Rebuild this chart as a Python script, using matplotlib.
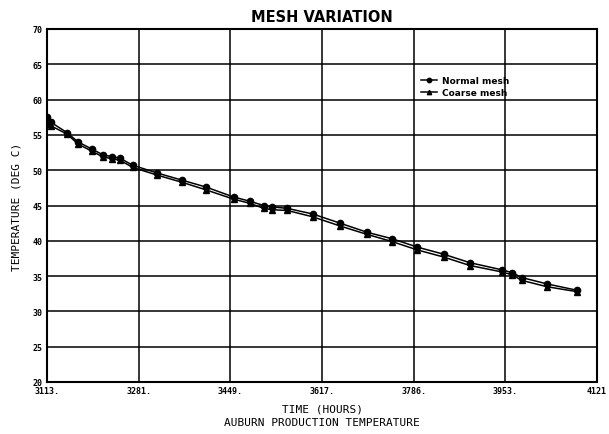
import matplotlib
matplotlib.use("Agg")
import matplotlib.pyplot as plt

times = [3113, 3120, 3150, 3170, 3195, 3215, 3233, 3247, 3270, 3315, 3360, 3405,
         3455, 3485, 3510, 3525, 3553, 3600, 3650, 3700, 3745, 3792, 3840, 3888,
         3946, 3965, 3983, 4029, 4084]
normal_mesh = [57.5, 56.8, 55.3, 54.0, 53.0, 52.2, 51.9, 51.7, 50.7, 49.6, 48.6, 47.6,
               46.2, 45.6, 45.0, 44.8, 44.6, 43.8, 42.5, 41.2, 40.3, 39.1, 38.1, 36.9,
               35.9, 35.5, 34.8, 33.9, 33.0]
coarse_mesh = [56.6, 56.3, 55.1, 53.7, 52.7, 51.9, 51.6, 51.4, 50.4, 49.3, 48.3, 47.2,
               45.9, 45.3, 44.6, 44.4, 44.3, 43.4, 42.1, 40.9, 39.9, 38.7, 37.7, 36.5,
               35.6, 35.2, 34.4, 33.5, 32.8]
x_ticks = [3113, 3281, 3449, 3617, 3786, 3953, 4121]
x_tick_labels = ["3113.", "3281.", "3449.", "3617.", "3786.", "3953.", "4121"]
y_ticks = [20, 25, 30, 35, 40, 45, 50, 55, 60, 65, 70]

fig = plt.figure(figsize=(6.09, 4.35), dpi=100)
ax = fig.add_axes([47/609, 1-383/435, 550/609, 353/435])

ax.plot(times, normal_mesh, color="black", lw=1.1, marker="o", ms=4.5,
        label="Normal mesh")
ax.plot(times, coarse_mesh, color="black", lw=1.1, marker="^", ms=4.5,
        label="Coarse mesh")

ax.set_xlim(3113, 4121)
ax.set_ylim(20, 70)
ax.set_xticks(x_ticks)
ax.set_xticklabels(x_tick_labels, family="DejaVu Sans Mono", fontsize=6, fontweight="bold")
ax.set_yticks(y_ticks)
ax.set_yticklabels([str(v) for v in y_ticks], family="DejaVu Sans Mono", fontsize=6, fontweight="bold")
ax.tick_params(length=0, pad=3)
ax.grid(True, color="black", lw=1.1)
for s in ax.spines.values():
    s.set_linewidth(1.5)

ax.set_title("MESH VARIATION", fontsize=10.5, fontweight="bold", family="Liberation Sans Narrow", pad=6)
ax.set_xlabel("TIME (HOURS)\nAUBURN PRODUCTION TEMPERATURE", family="DejaVu Sans Mono",
              fontsize=8, linespacing=1.5, labelpad=6)
ax.set_ylabel("TEMPERATURE (DEG C)", family="DejaVu Sans Mono", fontsize=8, labelpad=8)

leg = ax.legend(loc="upper left", bbox_to_anchor=(0.665, 0.89), frameon=False,
                handlelength=1.8, markerscale=0.7, handletextpad=0.5, labelspacing=0.3,
                prop={"weight": "bold", "size": 6.5})
fig.savefig("out.png", dpi=100)
